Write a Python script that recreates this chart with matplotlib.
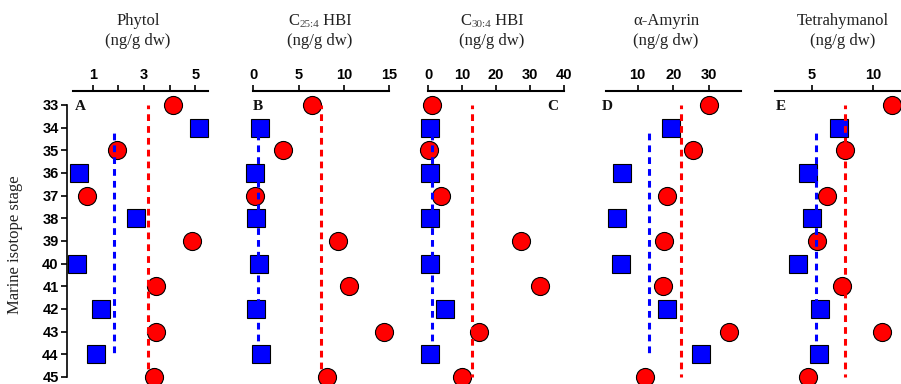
import matplotlib
matplotlib.use("Agg")
import matplotlib.pyplot as plt

# ---------------- data ----------------
red_stages = [33, 35, 37, 39, 41, 43, 45]
blue_stages = [34, 36, 38, 40, 42, 44]

# title parts: (main, subscript, rest)
titles = [("Phytol", "", ""), ("C", "25:4", " HBI"), ("C", "30:4", " HBI"),
          ("α-Amyrin", "", ""), ("Tetrahymanol", "", "")]
unit_label = "(ng/g dw)"
panel_letters = ["A", "B", "C", "D", "E"]

phytol_red = [4.13, 1.96, 0.77, 4.89, 3.47, 3.47, 3.39]
phytol_blue = [5.15, 0.46, 2.69, 0.40, 1.31, 1.12]
phytol_means = [3.17, 1.84]  # red, blue

c25_red = [6.5, 3.3, 0.22, 9.3, 10.5, 14.4, 8.1]
c25_blue = [0.74, 0.22, 0.26, 0.6, 0.3, 0.85]
c25_means = [7.46, 0.48]

c30_red = [1.2, 0.2, 3.75, 27.3, 33.0, 15.0, 9.9]
c30_blue = [0.6, 0.6, 0.6, 0.5, 4.9, 0.5]
c30_means = [13.0, 1.2]

amyrin_red = [30.0, 25.6, 18.1, 17.5, 17.0, 35.6, 12.0]
amyrin_blue = [19.3, 5.5, 4.1, 5.2, 18.1, 27.7]
amyrin_means = [22.2, 13.3]

tetra_red = [11.5, 7.7, 6.22, 5.45, 7.48, 10.68, 4.72]
tetra_blue = [7.22, 4.72, 5.05, 3.91, 5.67, 5.59]
tetra_means = [7.7, 5.35]

xlims = [(0.23, 5.5), (0, 15), (0, 40), (1.02, 38.9), (2.02, 12.98)]
major_ticks = [[1, 3, 5], [0, 5, 10, 15], [0, 10, 20, 30, 40], [10, 20, 30], [5, 10]]
minor_ticks = [[2, 4], [], [], [], []]
ytick_vals = list(range(33, 46))

reds = [phytol_red, c25_red, c30_red, amyrin_red, tetra_red]
blues = [phytol_blue, c25_blue, c30_blue, amyrin_blue, tetra_blue]
means = [phytol_means, c25_means, c30_means, amyrin_means, tetra_means]

# ---------------- layout (pixels) ----------------
W, H = 901, 384
fig = plt.figure(figsize=(W / 100, H / 100), dpi=100)
renderer = fig.canvas.get_renderer()

panel_px = [(73, 208), (253.3, 389.3), (428.3, 564), (605.7, 740.7), (775, 910)]
title_x = [138, 320, 492, 666, 843]
letter_pos = [(75, 'left'), (253, 'left'), (558, 'right'), (602, 'left'), (776, 'left')]
top_px, bot_px = 90.7, 384

serif = 'Liberation Serif'
sans = 'Liberation Sans'
title_size = 12
tick_size = 10.5
tcol = '#222222'


def fx(px):
    return px / W


def fy(py):
    return 1 - py / H


for i in range(5):
    x0, x1 = panel_px[i]
    ax = fig.add_axes([fx(x0), fy(bot_px), (x1 - x0) / W, (bot_px - top_px) / H])
    ax.patch.set_alpha(0)
    ax.set_xlim(*xlims[i])
    ax.set_ylim(45.31, 32.37)
    for s in ['bottom', 'right']:
        ax.spines[s].set_visible(False)
    ax.spines['top'].set_linewidth(1.5)
    ax.xaxis.tick_top()
    ax.set_xticks(major_ticks[i])
    ax.set_xticks(minor_ticks[i], minor=True)
    ax.tick_params(axis='x', which='both', direction='out', length=4, width=1.2, pad=2.5)
    for lab in ax.get_xticklabels():
        lab.set_fontfamily(sans)
        lab.set_fontweight('bold')
        lab.set_fontsize(tick_size)
    if i == 0:
        ax.spines['left'].set_position(('outward', 4.3))
        ax.spines['left'].set_bounds(33, 45)
        ax.spines['left'].set_linewidth(1.2)
        ax.set_yticks(ytick_vals)
        ax.tick_params(axis='y', direction='out', length=4, width=1.2, pad=2)
        for lab in ax.get_yticklabels():
            lab.set_fontfamily(sans)
            lab.set_fontweight('bold')
            lab.set_fontsize(tick_size)
    else:
        ax.spines['left'].set_visible(False)
        ax.set_yticks([])

    ax.plot(reds[i], red_stages, 'o', ms=13, mfc='#ff0000', mec='black', mew=0.8,
            clip_on=False, zorder=3, linestyle='none')
    ax.plot(blues[i], blue_stages, 's', ms=12.5, mfc='#0000ff', mec='black', mew=0.8,
            clip_on=False, zorder=3, linestyle='none')
    rm, bm = means[i]
    ax.plot([rm, rm], [red_stages[0], red_stages[-1]], color='#ff0000', lw=2.2,
            linestyle=(1.0, (2.2, 1.67)), zorder=4, clip_on=False)
    ax.plot([bm, bm], [blue_stages[0], blue_stages[-1]], color='#0000ff', lw=2.2,
            linestyle=(2.2, (2.2, 1.67)), zorder=4, clip_on=False)

    # titles (manual subscript composition)
    main, sub, rest = titles[i]
    base1 = 25
    if sub:
        pieces = [(main, title_size, tcol, 0), (sub, 8, '#444444', 2), (rest, title_size, tcol, 0)]
        texts = []
        widths = []
        for s, fs, col, dy in pieces:
            t = fig.text(0, 0, s, fontfamily=serif, fontsize=fs, color=col,
                         ha='left', va='baseline')
            widths.append(t.get_window_extent(renderer).width)
            texts.append((t, dy))
        total = sum(widths)
        cur = title_x[i] - total / 2
        for (t, dy), w in zip(texts, widths):
            t.set_position((fx(cur), fy(base1 + dy)))
            cur += w
    else:
        fig.text(fx(title_x[i]), fy(base1), main, ha='center', va='baseline',
                 fontfamily=serif, fontsize=title_size, color=tcol)
    fig.text(fx(title_x[i]), fy(45), unit_label, ha='center', va='baseline',
             fontfamily=serif, fontsize=title_size, color=tcol)
    lx, lha = letter_pos[i]
    fig.text(fx(lx), fy(106), panel_letters[i], ha=lha, va='center',
             fontfamily=serif, fontweight='bold', fontsize=11, color='#111111')

fig.text(fx(15), fy(245), "Marine isotope stage", rotation=90, ha='center',
         va='center', fontfamily=serif, fontsize=12, color=tcol)

fig.savefig("out.png", dpi=100)
